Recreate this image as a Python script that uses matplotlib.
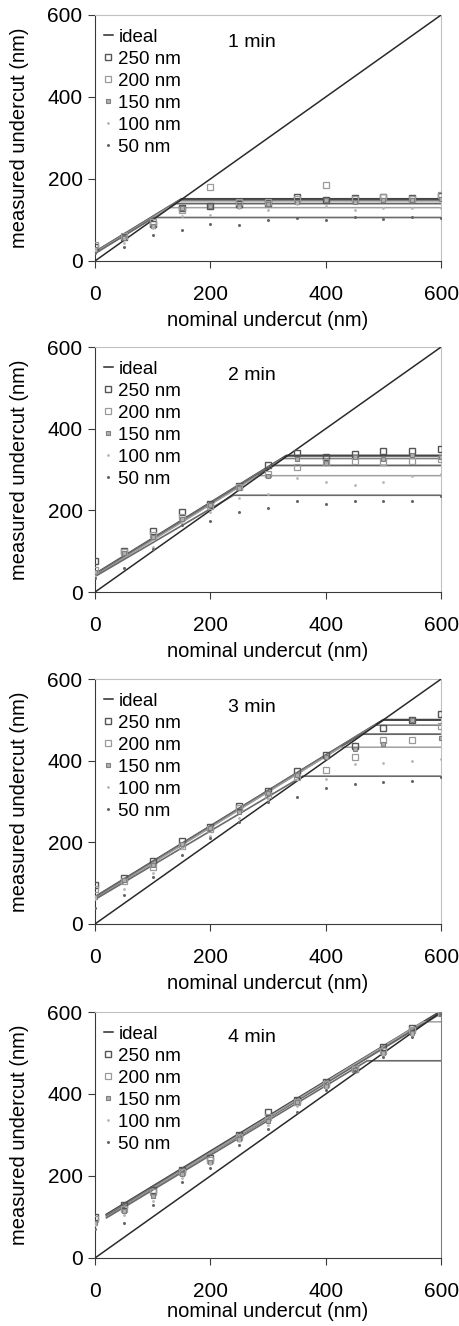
import matplotlib
matplotlib.use("Agg")
import matplotlib.pyplot as plt
import numpy as np

plt.rcParams['font.family'] = ['Liberation Sans', 'DejaVu Sans']

# nominal undercut positions (nm)
nominal = [0, 50, 100, 150, 200, 250, 300, 350, 400, 450, 500, 550, 600]
sizes = ["250 nm", "200 nm", "150 nm", "100 nm", "50 nm"]
times = ["1 min", "2 min", "3 min", "4 min"]

# measured undercut per time, per feature size (nm)
meas_1min = [
    [35, 58, 90, 130, 135, 140, 142, 155, 148, 153, 157, 154, 158],
    [40, 60, 95, 125, 180, 143, 145, 150, 186, 150, 155, 150, 160],
    [30, 55, 85, 130, 135, 135, 140, 145, 148, 145, 148, 148, 150],
    [25, 45, 80, 110, 113, 130, 125, 140, 133, 125, 130, 130, 130],
    [20, 35, 63, 75, 90, 87, 100, 105, 100, 108, 103, 108, 105],
]
meas_2min = [
    [77, 100, 150, 195, 215, 260, 310, 340, 330, 338, 345, 345, 350],
    [55, 98, 140, 185, 210, 258, 290, 305, 318, 320, 318, 320, 325],
    [50, 95, 135, 178, 212, 255, 285, 325, 315, 330, 325, 335, 330],
    [40, 60, 110, 170, 195, 230, 240, 280, 270, 262, 270, 285, 290],
    [35, 58, 105, 165, 175, 195, 205, 222, 215, 222, 222, 222, 235],
]
meas_3min = [
    [95, 112, 155, 203, 238, 290, 325, 375, 415, 435, 480, 500, 515],
    [85, 105, 140, 190, 232, 285, 315, 360, 378, 410, 450, 450, 485],
    [65, 108, 145, 195, 235, 275, 320, 365, 410, 428, 440, 500, 455],
    [60, 85, 125, 185, 215, 260, 305, 355, 355, 393, 395, 398, 403],
    [40, 72, 115, 168, 210, 250, 298, 310, 333, 343, 348, 350, 360],
]
meas_4min = [
    [100, 130, 165, 215, 245, 300, 355, 385, 430, 460, 515, 560, 600],
    [95, 120, 160, 210, 240, 295, 345, 380, 425, 460, 505, 555, 598],
    [85, 115, 150, 205, 235, 290, 335, 380, 420, 458, 500, 550, 595],
    [80, 105, 140, 195, 230, 285, 325, 370, 415, 455, 495, 545, 595],
    [70, 85, 130, 185, 220, 275, 315, 355, 410, 455, 490, 540, 595],
]
measured = [meas_1min, meas_2min, meas_3min, meas_4min]

# fitted lines: start (x, y), knee (x, y), then flat to 600
fit_start_x = [0, 0, 0, 20]
fit_start_y = [
    [22, 22, 20, 20, 18],
    [44, 43, 42, 40, 38],
    [66, 65, 64, 62, 60],
    [106, 104, 102, 100, 98],
]
fit_knee_x = [
    [150, 146, 140, 128, 102],
    [332, 325, 308, 282, 240],
    [500, 485, 462, 426, 360],
    [600, 600, 600, 569, 472],
]
fit_plateau = [
    [151, 147, 140, 130, 106],
    [334, 327, 310, 285, 237],
    [500, 487, 465, 433, 362],
    [602, 599, 597, 576, 481],
]

marker_style = [
    dict(marker='s', ms=4.2, mfc='none', mec='#555555', mew=1.0),
    dict(marker='s', ms=3.8, mfc='none', mec='#9a9a9a', mew=0.9),
    dict(marker='s', ms=3.2, mfc='#b0b0b0', mec='#808080', mew=0.8),
    dict(marker='o', ms=2.0, mfc='#b5b5b5', mec='#b5b5b5', mew=0),
    dict(marker='o', ms=2.2, mfc='#666666', mec='#666666', mew=0),
]
fit_colors = ['#444444', '#808080', '#646464', '#a0a0a0', '#6a6a6a']
fit_widths = [1.6, 1.2, 1.3, 1.1, 1.2]

fig = plt.figure(figsize=(4.59, 13.26), dpi=100)
boxes = [
    (0.207, 0.8032, 0.754, 0.1855),
    (0.207, 0.5535, 0.754, 0.1848),
    (0.207, 0.3032, 0.754, 0.1847),
    (0.207, 0.0513, 0.754, 0.1855),
]
time_y = [532, 531, 531, 539]
xlabel_pad = [5, 5, 5, 1]

for p in range(4):
    ax = fig.add_axes(boxes[p])
    ax.plot([0, 600], [0, 600], color='#2a2a2a', lw=1.1, label='ideal', zorder=3)
    for s in range(5):
        xs = [fit_start_x[p], fit_knee_x[p][s], 600]
        ys = [fit_start_y[p][s], fit_plateau[p][s], fit_plateau[p][s]]
        ax.plot(xs, ys, color=fit_colors[s], lw=fit_widths[s], zorder=2)
    for s in range(5):
        ax.plot(nominal, measured[p][s], ls='none', label=sizes[s], zorder=4,
                **marker_style[s])

    ax.set_xlim(0, 600)
    ax.set_ylim(0, 600)
    ax.set_xticks([0, 200, 400, 600])
    ax.set_yticks([0, 200, 400, 600])
    ax.spines['left'].set_color('#3a3a3a')
    ax.spines['bottom'].set_color('#3a3a3a')
    ax.spines['top'].set_color('#c0c0c0')
    ax.spines['right'].set_color('#c0c0c0' if p < 3 else '#808080')
    ax.tick_params(axis='both', labelsize=15, color='#3a3a3a', length=5,
                   direction='out')
    ax.tick_params(axis='x', pad=12)
    ax.tick_params(axis='y', pad=4)
    ax.set_xlabel('nominal undercut (nm)', fontsize=14.5, labelpad=xlabel_pad[p])
    ax.set_ylabel('measured undercut (nm)', fontsize=14.5)
    ax.yaxis.set_label_coords(-0.192, 0.5)
    ax.text(272, time_y[p], times[p], fontsize=14, ha='center', va='center')
    ax.legend(loc='upper left', frameon=False, fontsize=13.5,
              handlelength=0.45, handletextpad=0.3, labelspacing=0.26,
              borderaxespad=0.0, markerscale=1.0,
              bbox_to_anchor=(0.005, 0.975))

fig.savefig("out.png", dpi=100)
